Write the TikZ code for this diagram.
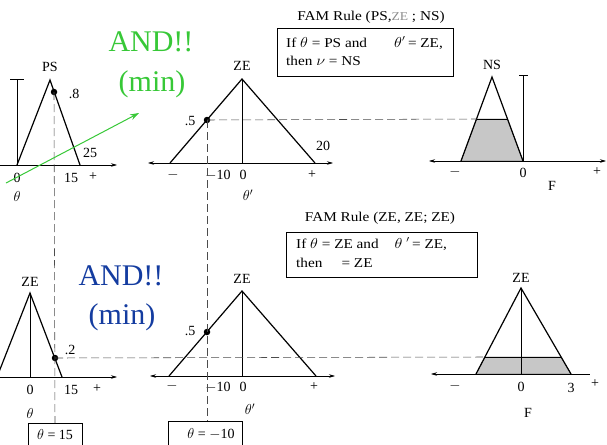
\documentclass[tikz,border=0pt]{standalone}
\usepackage{fontspec}
\setmainfont{Liberation Serif}
\usetikzlibrary{arrows.meta}
\definecolor{andgreen}{RGB}{55,200,55}
\definecolor{andblue}{RGB}{20,60,160}
\newcommand{\wide}[1]{\scalebox{1.13}[1]{#1}}
\begin{document}
\begin{tikzpicture}[x=1pt,y=-1pt,
  curve/.style={line width=1.2pt, line join=miter},
  axisline/.style={line width=0.6pt},
  arr/.style={-{Stealth[length=6pt,width=3.5pt]}},
  guide/.style={dash pattern=on 8pt off 4pt, line width=0.55pt, black!70},
  lbl/.style={font=\fontsize{14}{16}\selectfont, inner sep=0pt},
  boxtxt/.style={font=\fontsize{13.5}{15}\selectfont, inner sep=0pt},
  andtxt/.style={font=\fontsize{30}{32}\selectfont, inner sep=0pt, anchor=base},
  dot/.style={circle, fill=black, inner sep=0pt, minimum size=6.5pt},
  rulebox/.style={draw, line width=0.6pt},
  shade/.style={fill=black!22}
]
\useasboundingbox (0,0) rectangle (607,444);
\clip (0,0) rectangle (607,444);

% ---------- top-left: PS ----------
\draw[axisline,arr] (0,165) -- (117,165);
\draw[axisline] (17,79) -- (17,165);
\draw[axisline] (10,79) -- (24,79);
\draw[curve] (17,165) -- (50,80) -- (80,165);
\node[dot] (d1) at (54,92) {};
\node[lbl] (ps) at (50,67) {PS};
\node[lbl] (p8) at (74,94) {.8};
\node[lbl] (p25) at (90,153) {25};
\node[lbl] (p0) at (17,178) {0};
\node[lbl] (p15) at (71,178) {15};
\node[lbl] (ppl) at (93,177) {+};
\node[lbl] (pth) at (17,196) {$\theta$};

% ---------- top-middle: ZE (theta') ----------
\draw[axisline,{Stealth[length=6pt,width=3.5pt]}-{Stealth[length=6pt,width=3.5pt]}] (148,163) -- (333,163);
\draw[curve] (170,163) -- (242,79) -- (315,163);
\draw[axisline] (242,79) -- (242,163);
\node[dot] (d2) at (207,120) {};
\node[lbl] (z1) at (242,66) {ZE};
\node[lbl] (z1a) at (190,121) {.5};
\node[lbl] (z1b) at (323,146) {20};
\node[lbl] (z1c) at (173,175) {$-$};
\node[lbl] (z1d) at (218,175) {$-$10};
\node[lbl] (z1e) at (243,175) {0};
\node[lbl] (z1f) at (312,175) {+};
\node[lbl] (z1g) at (248,195) {$\theta'$};

% ---------- top rule box ----------
\node[boxtxt] (t1) at (371,17) {\wide{FAM Rule (PS,{\color{black!45}\fontsize{12}{13}\selectfont ZE} ; NS)}};
\draw[rulebox] (277,28) rectangle (453,76);
\node[boxtxt, anchor=west] (b1a) at (286,43) {\wide{If $\theta$ = PS and\hspace{24pt}$\theta'$\,= ZE,}};
\node[boxtxt, anchor=west] (b1b) at (286,61) {\wide{then $\nu$ = NS}};

% ---------- top-right: NS ----------
\draw[shade] (461,161) -- (476.5,119) -- (507.5,119) -- (523,161) -- cycle;
\draw[axisline,{Stealth[length=6pt,width=3.5pt]}-{Stealth[length=6pt,width=3.5pt]}] (429,161) -- (606,161);
\draw[axisline] (523,75) -- (523,161);
\draw[axisline] (519,75) -- (528,75);
\draw[curve] (461,161) -- (492,77) -- (523,161);
\draw[axisline] (476.5,119) -- (507.5,119);
\coordinate (n1) at (476.5,119);
\node[lbl] (ns) at (492,65) {NS};
\node[lbl] (nsa) at (455,172) {$-$};
\node[lbl] (nsb) at (523,173) {0};
\node[lbl] (nsc) at (597,172) {+};
\node[lbl] (nsd) at (552,186) {F};

% ---------- bottom-left: ZE (theta) ----------
\draw[axisline,arr] (0,377) -- (117,377);
\draw[curve] (-3,377) -- (30,293) -- (62,377);
\draw[axisline] (30,293) -- (30,377);
\node[dot] (d3) at (55,358) {};
\node[lbl] (z2) at (30,282) {ZE};
\node[lbl] (z2a) at (70,350) {.2};
\node[lbl] (z2b) at (30,390) {0};
\node[lbl] (z2c) at (71,390) {15};
\node[lbl] (z2d) at (97,389) {+};
\node[lbl] (z2e) at (30,413) {$\theta$};
\draw[rulebox] (28,423) rectangle (82,448);
\node[lbl] (bx1) at (55,435) {$\theta$ = 15};
\coordinate (bx1top) at (55,423);

% ---------- bottom-middle: ZE (theta') ----------
\draw[axisline,{Stealth[length=6pt,width=3.5pt]}-{Stealth[length=6pt,width=3.5pt]}] (150,376) -- (335,376);
\draw[curve] (169,376) -- (242,291) -- (316,376);
\draw[axisline] (242,291) -- (242,376);
\node[dot] (d4) at (207,332) {};
\node[lbl] (z3) at (242,279) {ZE};
\node[lbl] (z3a) at (190,331) {.5};
\node[lbl] (z3b) at (172,386) {$-$};
\node[lbl] (z3c) at (218,387) {$-$10};
\node[lbl] (z3d) at (243,387) {0};
\node[lbl] (z3e) at (314,387) {+};
\node[lbl] (z3f) at (250,409) {$\theta'$};
\draw[rulebox] (168,421) rectangle (242,448);
\node[lbl] (bx2) at (211,434) {$\theta$ = $-$10};
\coordinate (bx2top) at (207,421);

% ---------- bottom rule box ----------
\node[boxtxt] (t2) at (380,218) {\wide{FAM Rule (ZE, ZE; ZE)}};
\draw[rulebox] (286,232) rectangle (477,277);
\node[boxtxt, anchor=west] (b2a) at (296,244) {\wide{If $\theta$ = ZE and\hspace{14pt}$\theta\ ^{\prime}$\,= ZE,}};
\node[boxtxt, anchor=west] (b2b) at (296,263) {\wide{then \quad = ZE}};

% ---------- bottom-right: ZE (F) ----------
\draw[shade] (476,374) -- (485,357) -- (561,357) -- (571,374) -- cycle;
\draw[axisline,{Stealth[length=6pt,width=3.5pt]}-] (431,374) -- (590,374);
\draw[curve] (476,374) -- (521,288) -- (571,374);
\draw[axisline] (521,288) -- (521,374);
\draw[axisline] (485,357) -- (561,357);
\coordinate (n2) at (485,357);
\node[lbl] (z4) at (521,278) {ZE};
\node[lbl] (z4a) at (455,386) {$-$};
\node[lbl] (z4b) at (521,387) {0};
\node[lbl] (z4c) at (571,388) {3};
\node[lbl] (z4d) at (595,384) {+};
\node[lbl] (z4e) at (528,413) {F};

% ---------- guide lines ----------
\draw[guide] (d1.center) -- (bx1top);
\draw[guide] (d2.center) -- (bx2top);
\draw[guide] (d2.center) -- (n1);
\draw[guide] (d3.center) -- (n2);

% ---------- AND annotations ----------
\node[andtxt, text=andgreen] (g1) at (151,52) {AND!!};
\node[andtxt, text=andgreen] (g2) at (152,91) {(min)};
\node[andtxt, text=andblue] (bl1) at (121,285) {AND!!};
\node[andtxt, text=andblue] (bl2) at (122,324) {(min)};
\coordinate (ga) at (6,183);
\coordinate (gb) at (139,113);
\draw[andgreen, line width=1pt, -{Stealth[length=9pt,width=6pt]}] (ga) -- (gb);
\end{tikzpicture}
\end{document}
